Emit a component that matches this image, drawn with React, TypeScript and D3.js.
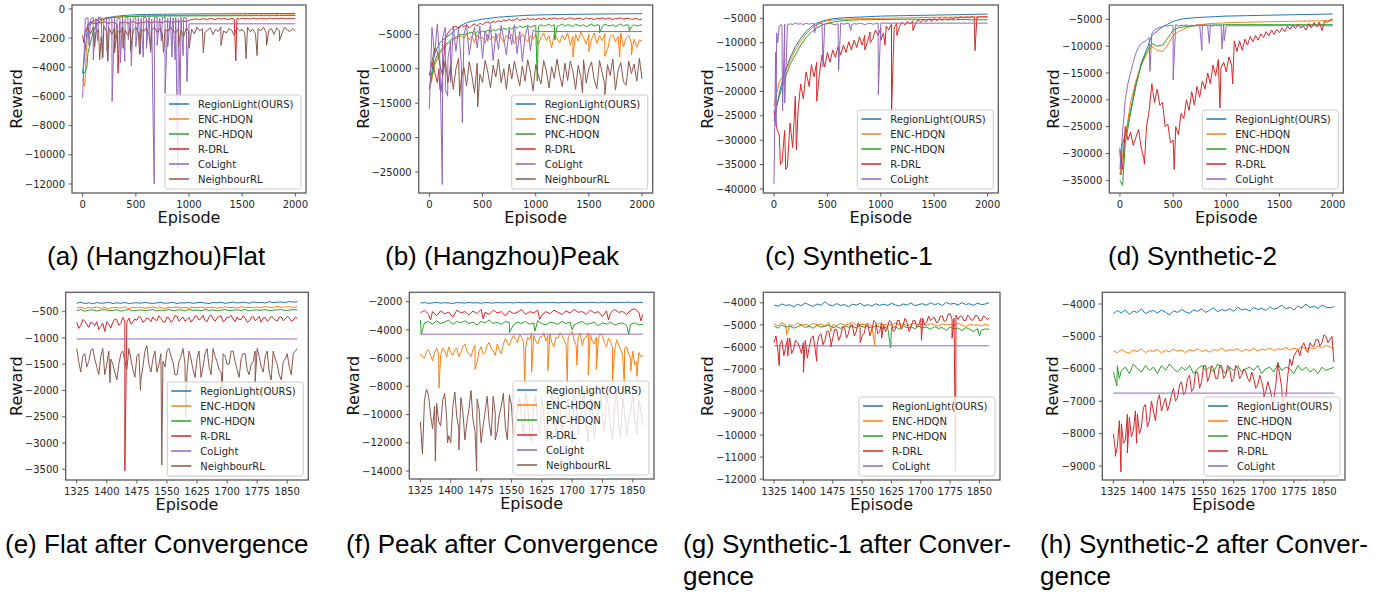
import React from 'react';
import * as d3 from 'd3';

type Pt = [number, number];

const COLORS = ['#1f77b4', '#ff7f0e', '#2ca02c', '#d62728', '#9467bd', '#8c564b'];
const NAMES = ['RegionLight(OURS)', 'ENC-HDQN', 'PNC-HDQN', 'R-DRL', 'CoLight', 'NeighbourRL'];

const TOP_X_TICKS = [0, 500, 1000, 1500, 2000];
const BOT_X_TICKS = [1325, 1400, 1475, 1550, 1625, 1700, 1775, 1850];

const seq = (start: number, step: number, vals: number[]): Pt[] => vals.map((v, i) => [start + i * step, v] as Pt);
const merge = (...parts: Pt[][]): Pt[] => parts.flat().slice().sort((a, b) => a[0] - b[0]);

// ---------------- (a) Hangzhou Flat ----------------
const A_BLUE = [-4400,-1000,-850,-750,-650,-580,-520,-480,-440,-420,-400,-390,-380,-375,-370,-365,-360,-355,-350,-350,-345,-345,-340,-340,-335,-335,-330,-330,-330,-325,-325,-320,-320,-320,-315,-315,-315,-310,-310,-310,-305];
const A_ORANGE = [-4800,-1200,-800,-700,-650,-600,-560,-530,-510,-500,-490,-480,-470,-465,-460,-455,-450,-450,-445,-445,-440,-440,-440,-435,-435,-430,-430,-430,-425,-425,-425,-420,-420,-420,-420,-415,-415,-415,-410,-410,-410];
const A_ORANGE_SPIKES: Pt[] = [[20,-5300],[35,-3000]];
const A_GREEN = [-4500,-3000,-1500,-900,-700,-620,-580,-550,-530,-520,-510,-500,-500,-495,-490,-490,-485,-485,-480,-480,-480,-475,-475,-475,-470,-470,-470,-470,-465,-465,-465,-465,-460,-460,-460,-460,-460,-455,-455,-455,-455];
const A_GREEN_SPIKES: Pt[] = [[25,-4300],[40,-4000],[75,-2300]];
const A_RED = [
  -1800,-1600,-1150,-1000,-950,-1050,-900,-1000,-850,-950,-1000,-880,-950,-1050,-900,-980,-870,-1000,-920,-860,
  -950,-1020,-880,-940,-860,-900,-980,-850,-920,-880,-960,-840,-900,-870,-950,-830,-900,-860,-820,-880,
  -780,-720,-700,-680,-740,-660,-700,-720,-650,-690,-720,-640,-700,-660,-680,-720,-640,-690,-660,-700,
  -640,-680,-650,-700,-630,-670,-690,-640,-660,-700,-630,-650,-680,-640,-660,-620,-680,-650,-640,-660,-630];
const A_RED_SPIKES: Pt[] = [[10,-2300],[333,-4400],[1440,-3550]];
const A_PURPLE = [-6100,-650,-600,-700,-580,-650,-560,-620,-700,-580,-600,-650,-560,-700,-600,-580,-640,-560,-620,-700,-580,-600,-650,-560,-620,-580,-700,-600,-560,-640,-600,-580,-650,-560,-620,-600,-700,-580,-600,-640,-1020];
const A_PURPLE_SPIKES: Pt[] = [[60,-2500],[100,-3500],[140,-2200],[185,-3400],[230,-2900],[277,-6350],[300,-2500],[355,-3700],[396,-3600],[430,-2100],[458,-3900],[500,-2600],[543,-3100],[570,-3300],[600,-2700],[640,-3000],[660,-6500],[673,-12000],[700,-2500],[740,-2200],[775,-5800],[800,-2600],[840,-3300],[870,-3500],[894,-10900],[917,-6000],[945,-3200],[980,-5000],[2000,-1020]];
const A_BROWN = [
  -1500,-1300,-1700,-1250,-1600,-1400,-1900,-1200,-1550,-1350,-1750,-1300,-1500,-1650,-1250,-1450,-1800,-1350,-1500,-1250,
  -1650,-1400,-1550,-1300,-1800,-1450,-1250,-1600,-1350,-1700,-1400,-1550,-1250,-1500,-1650,-1350,-1450,-1900,-1300,-1550,
  -1400,-1700,-1250,-1500,-1350,-1600,-1450,-1300,-1750,-1400,-1550,-1250,-1500,-1650,-1350,-1450,-1800,-1300,-1500,-1400,
  -1650,-1250,-1550,-1400,-1700,-1350,-1500,-1250,-1600,-1450,-1350,-1750,-1300,-1500,-1650,-1250,-1450,-1550,-1350,-1500];
const A_BROWN_SPIKES: Pt[] = [[113,-2600],[160,-3500],[190,-3300],[237,-3600],[300,-3000],[380,-2700],[450,-2900],[535,-3100],[640,-2800],[760,-3000],[900,-2600],[1000,-2700],[1135,-3000],[1300,-2500],[1537,-3400],[1640,-3200],[1730,-2500],[1850,-2200]];

// ---------------- (b) Hangzhou Peak ----------------
const B_BLUE = [-13000,-7800,-6200,-5500,-5000,-4300,-3700,-3300,-3100,-2950,-2800,-2700,-2600,-2500,-2450,-2400,-2350,-2300,-2250,-2220,-2200,-2180,-2160,-2150,-2140,-2120,-2110,-2100,-2090,-2080,-2070,-2060,-2050,-2050,-2040,-2030,-2030,-2020,-2010,-2010,-2000];
const B_ORANGE = [
  -13000,-11500,-9500,-8500,-7800,-7200,-6800,-6400,-6000,-5800,-5600,-5400,-5200,-5600,-5000,-5800,-5200,-6200,-5000,-5600,
  -5400,-6300,-5000,-5800,-5300,-6000,-4900,-5500,-6200,-5100,-5700,-5000,-6400,-5300,-5800,-4900,-5600,-6100,-5200,-5700,
  -5000,-6500,-5400,-4800,-5900,-5200,-7000,-4900,-5600,-6200,-5100,-5800,-4800,-6600,-5300,-5000,-6000,-4700,-5500,-6400,
  -5000,-5700,-4800,-6300,-5200,-5900,-4900,-7200,-5400,-5000,-6100,-5300,-4800,-6800,-5500,-5100,-6400,-5700,-6900,-5800,-6000];
const B_ORANGE_SPIKES: Pt[] = [[1350,-8300],[1500,-7500],[1650,-8200],[1790,-8300],[1900,-8000]];
const B_GREEN = [
  -13000,-11000,-9000,-8000,-7500,-7000,-6500,-6200,-5800,-5600,-5400,-5200,-5000,-5100,-4900,-4800,-4700,-5000,-4600,-4800,
  -4500,-4700,-4400,-4600,-4300,-4500,-4200,-4400,-4100,-4300,-4000,-4200,-3900,-4100,-3800,-4000,-3900,-3700,-4000,-3800,
  -3700,-3900,-3600,-3800,-3700,-3500,-3800,-3600,-3900,-3700,-3500,-3800,-3600,-3700,-3900,-3500,-3700,-3800,-3600,-3900,
  -3700,-3500,-3800,-3600,-3700,-3900,-3500,-3700,-3800,-3600,-3900,-3700,-3500,-3800,-3600,-3700,-3900,-3600,-3800,-3700,-3600];
const B_GREEN_SPIKES: Pt[] = [[1015,-11800],[1180,-5800],[1600,-4800],[1880,-4500]];
const B_RED = [
  -11000,-9000,-10500,-12000,-13000,-11000,-5500,-4800,-4300,-4000,-3800,-4200,-3700,-3900,-3600,-4100,-3700,-3500,-3800,-3400,
  -3600,-3300,-3200,-3400,-3100,-3300,-3000,-3200,-2900,-3100,-2800,-3000,-2900,-2700,-3000,-2800,-2900,-2700,-2850,-2750,
  -2900,-2700,-2800,-2650,-2850,-2700,-2750,-2600,-2800,-2700,-2650,-2850,-2700,-2600,-2750,-2800,-2650,-2700,-2850,-2600,
  -2750,-2700,-2850,-2650,-2750,-2600,-2800,-2700,-2650,-2850,-2700,-2750,-2600,-2800,-2700,-2650,-2850,-2750,-2700,-2900,-2800];
const B_RED_SPIKES: Pt[] = [[90,-10000],[110,-13400]];
const B_PURPLE = [
  -15800,-4000,-8000,-3500,-9000,-5500,-4000,-8500,-6000,-3800,-7500,-4200,-9000,-5000,-3600,-8000,-5500,-4000,-7000,-3800,
  -8500,-4500,-6000,-3600,-8800,-4800,-7200,-3700,-5800,-8000,-4200,-6500,-3600,-7800,-4600,-9000,-5200,-3800,-7400,-4400,-4600];
const B_PURPLE_SPIKES: Pt[] = [[122,-26800],[150,-13000],[172,-14000],[200,-12000],[310,-17800],[2000,-4600]];
const B_BROWN = [
  -9000,-7000,-7500,-9500,-11000,-8800,-12000,-9500,-13000,-10000,-8500,-11500,-9800,-12500,-9000,-11000,-13500,-9200,-10800,-12000,
  -8800,-10500,-12800,-9500,-11200,-8600,-12000,-10000,-13000,-9300,-11500,-8900,-10800,-12500,-9600,-11800,-8700,-10500,-13200,-9400,
  -11000,-12200,-8800,-10300,-12800,-9700,-11400,-8600,-10900,-12600,-9200,-11700,-8900,-10400,-13000,-9500,-11300,-8700,-12100,-10000,
  -9000,-11600,-12900,-8800,-10600,-12300,-9400,-11000,-8600,-13100,-10200,-9100,-11900,-12400,-8900,-10700,-9300,-11800,-8500,-11500];
const B_BROWN_SPIKES: Pt[] = [[285,-14000],[455,-15500],[1440,-13500],[1650,-13800]];

// ---------------- (c) Synthetic-1 ----------------
const C_BLUE = [-26000,-20400,-16000,-13200,-10800,-9100,-7700,-6700,-6000,-5600,-5300,-5100,-5000,-4900,-4850,-4800,-4750,-4700,-4650,-4600,-4550,-4520,-4500,-4480,-4460,-4440,-4420,-4400,-4380,-4360,-4340,-4320,-4300,-4280,-4260,-4240,-4220,-4200,-4180,-4160,-4150];
const C_ORANGE = [-23000,-18000,-16300,-13800,-11500,-9700,-8200,-7100,-6300,-5800,-5500,-5350,-5250,-5200,-5150,-5100,-5080,-5060,-5040,-5020,-5000,-4980,-4960,-4940,-4920,-4900,-4880,-4860,-4840,-4820,-4800,-4790,-4780,-4770,-4760,-4750,-4740,-4730,-4720,-4710,-4700];
const C_GREEN = [-25000,-21000,-17500,-14500,-12500,-10500,-9000,-7800,-7000,-6400,-6000,-5800,-5600,-5500,-5400,-5350,-5300,-5300,-5300,-5250,-5250,-5250,-5250,-5200,-5200,-5200,-5200,-5200,-5250,-5250,-5250,-5300,-5300,-5300,-5300,-5250,-5250,-5300,-5300,-5300,-5300];
const C_RED = [
  -24000,-27500,-29000,-34500,-28000,-35500,-26500,-31500,-21000,-24000,
  -18500,-21500,-16000,-18500,-14500,-17000,-14000,-16500,-12500,-15000,
  -12000,-14000,-11500,-13000,-10800,-12500,-10500,-12000,-9800,-11500,
  -9500,-11000,-8800,-10500,-8500,-9800,-7800,-9200,-7400,-8500,
  -7000,-8000,-6600,-7400,-6200,-7000,-6000,-6700,-5800,-6400,
  -5600,-6200,-5500,-6000,-5300,-5800,-5200,-5700,-5100,-5600,
  -5000,-5500,-4900,-5400,-4800,-5300,-4900,-5100,-4800,-5000,
  -4700,-4900,-4700,-4850,-4650,-4800,-4700,-4750,-4650,-4700,-4700];
const C_RED_SPIKES: Pt[] = [[60,-35000],[110,-36000],[210,-32000],[330,-19000],[400,-22000],[850,-11500],[900,-10000],[1000,-9500],[1040,-10500],[1101,-23800],[1150,-8500],[1300,-7500],[1882,-11600]];
const C_PURPLE = [-39000,-8000,-6500,-6300,-6200,-6400,-6100,-6300,-6000,-6200,-6100,-6300,-6000,-6200,-6100,-6000,-6300,-6100,-6000,-6200,-6100,-6000,-6200,-6300,-6100,-6000,-6200,-6100,-6000,-6300,-6100,-6200,-6000,-6100,-6300,-6100,-6000,-6200,-6100,-6000,-6000];
const C_PURPLE_SPIKES: Pt[] = [[8,-25000],[15,-12000],[20,-27000],[35,-10000],[80,-24000],[100,-22400],[115,-14000],[380,-8000],[459,-14900],[605,-15700],[720,-7500],[977,-20600],[2000,-6000]];

// ---------------- (d) Synthetic-2 ----------------
const D_BLUE = [-29000,-26500,-22000,-17000,-13200,-10700,-8000,-7200,-6400,-5900,-5400,-5100,-4900,-4800,-4700,-4650,-4600,-4550,-4500,-4450,-4400,-4380,-4360,-4340,-4320,-4300,-4280,-4260,-4240,-4220,-4200,-4180,-4160,-4140,-4120,-4100,-4080,-4060,-4040,-4020,-4000];
const D_BLUE_SPIKES: Pt[] = [[10,-34000],[20,-28500]];
const D_ORANGE = [-34000,-27000,-20500,-16500,-13500,-11500,-10000,-10800,-11000,-9800,-8000,-7300,-6800,-6400,-6200,-6000,-5900,-5800,-5750,-5700,-5650,-5600,-5580,-5560,-5540,-5520,-5500,-5480,-5460,-5440,-5420,-5400,-5380,-5360,-5340,-5320,-5300,-5300,-5280,-5260,-5250];
const D_GREEN = [-35000,-28000,-22500,-17500,-13500,-11000,-9500,-10000,-9800,-8500,-7000,-6600,-6400,-6300,-6200,-6150,-6100,-6100,-6050,-6050,-6000,-6000,-6000,-6000,-6000,-6000,-6000,-6000,-6000,-6000,-6000,-6000,-6000,-6000,-6000,-6000,-6000,-6000,-6000,-6000,-6000];
const D_GREEN_SPIKES: Pt[] = [[25,-36000]];
const D_RED = [
  -29500,-33000,-25000,-27500,-26000,-28500,-27000,-25500,-29000,-31000,
  -25000,-22000,-17000,-20500,-18000,-21000,-20500,-25000,-24500,-28000,
  -27500,-25000,-26500,-22500,-23500,-20000,-22000,-18500,-21000,-17500,
  -19500,-16500,-18000,-15000,-17000,-13500,-15500,-12500,-14000,-13000,
  -14800,-12000,-13500,-9000,-11000,-9000,-10800,-8700,-9800,-8200,
  -9200,-8000,-8900,-7700,-8400,-7300,-8100,-7000,-7800,-6900,
  -7500,-6600,-7300,-6300,-6900,-6100,-6700,-5900,-6600,-6300,
  -7000,-5800,-6600,-5600,-6400,-5500,-7100,-5300,-5600,-5100,-5000];
const D_RED_SPIKES: Pt[] = [[230,-32000],[510,-33000],[940,-21500],[1060,-17000]];
const D_PURPLE = [-33000,-26000,-20000,-17000,-15000,-13000,-11300,-10200,-9500,-9200,-8900,-8400,-7600,-7000,-6700,-6500,-6400,-6200,-6300,-6100,-6200,-6000,-6300,-6100,-6200,-6000,-6300,-6100,-6200,-6000,-6100,-6300,-6000,-6200,-6100,-6300,-6000,-6200,-6100,-6000,-6200];
const D_PURPLE_SPIKES: Pt[] = [[282,-14700],[500,-16300],[770,-10800],[840,-9500],[960,-10500],[980,-9000],[2000,-6200]];

// ---------------- (e) Flat after convergence ----------------
const E_BLUE = [-340,-320,-345,-330,-350,-325,-340,-335,-320,-345,-330,-340,-325,-345,-335,-330,-340,-320,-335,-345,-330,-325,-340,-335,-320,-345,-330,-335,-325,-340,-330,-320,-335,-345,-325,-330,-320,-340,-330,-315,-335,-325,-320,-340,-315,-330,-320,-335,-310,-325,-320,-315,-330,-305,-320,-310];
const E_ORANGE = [-430,-415,-440,-420,-425,-410,-435,-420,-445,-415,-425,-430,-410,-440,-420,-425,-415,-435,-420,-410,-430,-420,-440,-415,-425,-410,-430,-420,-435,-415,-425,-410,-430,-420,-415,-435,-420,-410,-425,-415,-430,-405,-420,-415,-425,-410,-420,-405,-415,-420,-400,-415,-410,-405,-420,-410];
const E_GREEN = [-480,-460,-490,-470,-465,-485,-470,-460,-480,-475,-465,-490,-470,-460,-485,-475,-465,-480,-470,-460,-485,-470,-475,-460,-480,-470,-465,-485,-460,-475,-470,-480,-460,-475,-465,-485,-470,-460,-480,-470,-465,-475,-460,-485,-470,-465,-475,-460,-480,-470,-465,-460,-475,-470,-460,-465];
const E_RED = [
  -700,-820,-760,-650,-680,-740,-800,-700,-720,-770,
  -690,-840,-780,-720,-880,-690,-740,-810,-700,-640,
  -650,-760,-720,-610,-680,-700,-620,-730,-700,-640,
  -660,-590,-610,-700,-680,-620,-640,-690,-600,-650,
  -670,-580,-630,-690,-700,-600,-620,-700,-660,-570,
  -590,-680,-640,-600,-680,-650,-610,-700,-650,-580,
  -590,-660,-630,-570,-670,-690,-600,-560,-640,-680,
  -620,-590,-580,-690,-660,-600,-610,-570,-640,-690,
  -600,-650,-650,-580,-620,-700,-680,-610,-590,-670,
  -640,-590,-700,-620,-610,-680,-650,-590,-620,-660,
  -680,-600,-600,-670,-640,-590,-620,-680,-660,-600,-630];
const E_RED_SPIKES: Pt[] = [[1445,-3530]];
const E_PURPLE: Pt[] = [[1325,-1020],[1875,-1020]];
const E_BROWN = [
  -1200,-1450,-1650,-1350,-1300,-1550,-1450,-1250,-1200,-1400,
  -1550,-1700,-1350,-1200,-1700,-1500,-1250,-1400,-1500,-1650,
  -1800,-1500,-1300,-1250,-1450,-1600,-1200,-1400,-1600,-1750,
  -1350,-1300,-1800,-1550,-1250,-1150,-1500,-1650,-1400,-1250,
  -1650,-1500,-1300,-1450,-1550,-1250,-1200,-1350,-1450,-1700,
  -1700,-1450,-1350,-1200,-1500,-1650,-1250,-1400,-1600,-1750,
  -1400,-1250,-1750,-1550,-1300,-1200,-1550,-1700,-1200,-1350,
  -1450,-1600,-1650,-1300,-1350,-1500,-1500,-1250,-1250,-1450,
  -1600,-1750,-1400,-1300,-1300,-1600,-1700,-1500,-1450,-1250,
  -1200,-1350,-1550,-1650,-1350,-1250,-1650,-1800,-1250,-1400,
  -1500,-1700,-1800,-1450,-1400,-1300,-1550,-1700,-1300,-1250,-1200];
const E_BROWN_SPIKES: Pt[] = [[1408,-1850],[1484,-2000],[1537,-3420],[1597,-2500],[1688,-1950],[1770,-1850]];

// ---------------- (f) Peak after convergence ----------------
const F_BLUE = [-2100,-2060,-2120,-2080,-2050,-2110,-2070,-2090,-2130,-2060,-2080,-2100,-2050,-2090,-2070,-2110,-2060,-2080,-2100,-2050,-2090,-2070,-2060,-2100,-2040,-2080,-2070,-2050,-2090,-2060,-2080,-2040,-2070,-2060,-2090,-2050,-2070,-2040,-2080,-2060,-2050,-2070,-2040,-2060,-2080,-2030,-2060,-2050,-2070,-2040,-2060,-2030,-2050,-2070,-2040,-2060];
const F_ORANGE = [
  -5700,-5900,-6000,-5500,-5400,-5800,-6200,-5600,-5300,-5700,
  -5800,-5300,-5500,-5900,-5200,-5600,-5800,-5400,-5300,-5900,
  -5600,-5200,-5000,-5500,-5700,-5900,-5400,-5100,-6300,-5500,
  -5200,-5700,-5600,-5100,-4900,-5300,-5500,-5800,-5000,-5400,
  -5700,-5000,-4600,-4900,-5100,-4700,-4400,-4600,-4900,-4300,
  -4500,-4900,-5300,-4500,-4700,-4200,-4400,-4800,-5000,-4500,
  -4500,-4200,-4800,-4400,-4300,-4900,-5200,-4500,-4600,-4200,
  -4400,-4700,-5000,-4600,-4300,-4100,-4700,-5100,-4400,-4200,
  -5100,-4600,-4500,-4200,-4300,-4800,-5000,-4500,-4600,-4300,
  -4400,-4900,-5200,-4600,-4800,-5300,-5500,-4700,-5000,-5400,
  -5800,-5300,-5200,-5700,-6000,-5500,-6500,-6200,-5600,-5900,-5800];
const F_ORANGE_SPIKES: Pt[] = [[1371,-8100],[1460,-6800],[1583,-7800],[1600,-7000],[1640,-6900],[1688,-7700],[1712,-6500],[1740,-7200],[1760,-6800],[1800,-7600],[1829,-7900],[1845,-6900],[1860,-7300]];
const F_GREEN = [-3300,-3500,-3400,-3600,-3350,-3550,-3450,-3300,-3600,-3400,-3500,-3350,-3550,-3450,-3650,-3400,-3500,-3300,-3550,-3450,-3600,-3400,-3500,-3650,-3450,-3550,-3400,-3600,-3500,-3350,-3550,-3650,-3450,-3500,-3600,-3400,-3550,-3450,-3650,-3500,-3400,-3600,-3550,-3450,-3700,-3500,-3600,-3450,-3650,-3550,-3500,-3700,-3600,-3500,-3650,-3600];
const F_GREEN_SPIKES: Pt[] = [[1327,-4300],[1545,-4200],[1608,-4100],[1700,-4000],[1840,-4300]];
const F_RED = [-2800,-2600,-2900,-2700,-3000,-2650,-2850,-2750,-3100,-2600,-2800,-2700,-2950,-2650,-2850,-2550,-2750,-2900,-2600,-2800,-2700,-3000,-2650,-2850,-2750,-2550,-2900,-2700,-2800,-2600,-2950,-2700,-2850,-2600,-2750,-2900,-2650,-2800,-2550,-2750,-2700,-2900,-2600,-2800,-2700,-3050,-2650,-2800,-2550,-2750,-2700,-2900,-2600,-2500,-2750,-2900];
const F_RED_SPIKES: Pt[] = [[1350,-3300],[1480,-3200],[1620,-3250],[1790,-3300],[1870,-3350]];
const F_PURPLE: Pt[] = [[1325,-4300],[1875,-4300]];
const F_BROWN = [
  -10500,-12800,-9000,-8200,-8600,-10000,-11000,-9400,-9200,-10500,
  -10800,-9000,-8500,-10300,-11500,-12000,-9500,-8400,-10200,-11000,
  -8800,-9800,-11800,-10500,-9600,-8300,-10400,-11200,-8900,-9600,
  -12000,-10800,-9800,-8700,-10600,-11500,-8700,-9900,-11200,-10000,
  -9400,-8500,-10900,-11800,-8600,-9300,-11600,-10700,-9700,-8800,
  -10100,-11500,-8500,-9200,-11300,-12000,-9300,-8600,-10700,-11300,
  -8800,-10000,-11900,-10200,-9500,-8400,-10300,-11600,-8700,-9500,
  -11100,-10400,-9900,-8900,-10500,-12000,-8600,-9100,-11400,-10600,
  -9200,-8300,-10800,-11900,-8900,-9600,-11700,-10400,-9600,-8700,
  -10200,-11200,-8600,-9400,-11000,-11800,-9400,-8500,-10600,-11700,
  -8800,-9900,-11500,-10300,-9700,-8600,-10300,-11400,-9000,-9700,-10800];
const F_BROWN_SPIKES: Pt[] = [[1362,-13300],[1392,-12000],[1420,-12500],[1464,-14000],[1510,-11800]];

// ---------------- (g) Synthetic-1 after convergence ----------------
const G_BLUE = [-4100,-4150,-4050,-4120,-4080,-4180,-4060,-4130,-4000,-4100,-4160,-4050,-4110,-3950,-4090,-4140,-4030,-4120,-4070,-4180,-4060,-4100,-4020,-4130,-4080,-4150,-4040,-4110,-4060,-4120,-4020,-4090,-4140,-4050,-4100,-4000,-4130,-4070,-4040,-4110,-4000,-4080,-4030,-4120,-3980,-4060,-4020,-4100,-3990,-4070,-4040,-4110,-4010,-4080,-4050,-3990];
const G_ORANGE = [-4950,-5050,-4900,-5000,-4980,-5060,-4920,-5010,-4970,-5040,-4930,-5000,-4960,-5050,-4900,-4990,-5030,-4940,-5010,-4970,-4880,-5020,-4960,-4990,-4930,-5050,-4980,-4940,-5000,-4960,-5030,-4910,-4990,-4950,-5040,-4970,-4920,-5000,-4960,-5030,-4940,-4990,-5060,-4950,-5010,-4970,-5040,-4930,-5000,-5080,-4960,-5020,-4990,-5050,-4970,-5030];
const G_ORANGE_SPIKES: Pt[] = [[1357,-5450],[1470,-5300],[1582,-5900]];
const G_GREEN = [-5050,-5150,-5000,-5100,-5050,-5150,-5080,-5000,-5120,-5060,-5150,-5020,-5100,-5060,-5000,-5120,-5080,-5160,-5040,-5100,-5060,-5140,-5020,-5110,-5070,-5150,-5030,-5100,-5160,-5060,-5120,-5080,-5200,-5050,-5130,-5090,-5170,-5060,-5140,-5100,-5200,-5080,-5160,-5120,-5240,-5100,-5180,-5140,-5260,-5120,-5200,-5300,-5160,-5240,-5180,-5200];
const G_GREEN_SPIKES: Pt[] = [[1623,-6050],[1850,-5500]];
const G_RED = [
  -5800,-5500,-6200,-5900,-5700,-6400,-6000,-5600,-5600,-6300,
  -6100,-5700,-5800,-6000,-6300,-5800,-5700,-6500,-6000,-5600,
  -5500,-6100,-5900,-5500,-5400,-5900,-5700,-5300,-5300,-5800,
  -5600,-5200,-5200,-5700,-5500,-5100,-5100,-5600,-5400,-5000,
  -5000,-5500,-5300,-4900,-5100,-5500,-5400,-5000,-5000,-5500,
  -5200,-4800,-4900,-5400,-5300,-4900,-5000,-5300,-5100,-4800,
  -4900,-5300,-5200,-4800,-4800,-5200,-5000,-4700,-4900,-5300,
  -5100,-4800,-4800,-5100,-5000,-4700,-4700,-5000,-4900,-4600,
  -4800,-4700,-4650,-4900,-4850,-4600,-4600,-4850,-4800,-4500,
  -4500,-4750,-4700,-4550,-4750,-4600,-4600,-4800,-4800,-4550,
  -4650,-4800,-4750,-4550,-4600,-4800,-4800,-4600,-4650,-4750,-4700];
const G_RED_SPIKES: Pt[] = [[1338,-6850],[1360,-6400],[1400,-7150],[1434,-6650],[1470,-6000],[1545,-5800],[1600,-5600],[1702,-5700],[1780,-5600],[1789,-11650]];
const G_PURPLE: Pt[] = [[1325,-5950],[1875,-5950]];

// ---------------- (h) Synthetic-2 after convergence ----------------
const H_BLUE = [-4300,-4200,-4280,-4180,-4320,-4220,-4260,-4150,-4300,-4230,-4200,-4280,-4190,-4250,-4340,-4210,-4260,-4170,-4240,-4290,-4180,-4230,-4150,-4260,-4200,-4120,-4240,-4170,-4210,-4140,-4230,-4100,-4180,-4150,-4220,-4110,-4170,-4130,-4200,-4090,-4160,-4120,-4040,-4150,-4100,-4180,-4060,-4130,-4000,-4110,-4070,-4140,-4030,-4100,-4120,-4080];
const H_ORANGE = [-5450,-5500,-5400,-5480,-5520,-5420,-5470,-5380,-5500,-5440,-5460,-5400,-5510,-5430,-5480,-5390,-5460,-5420,-5500,-5410,-5450,-5380,-5470,-5420,-5490,-5400,-5440,-5360,-5460,-5410,-5430,-5380,-5470,-5400,-5440,-5370,-5450,-5390,-5420,-5350,-5440,-5380,-5410,-5340,-5420,-5370,-5400,-5320,-5390,-5350,-5380,-5300,-5360,-5280,-5320,-5400];
const H_GREEN = [-6100,-5900,-6050,-5950,-6150,-5850,-6000,-6100,-5900,-6050,-5950,-6150,-5900,-6050,-5850,-6000,-6100,-5950,-6050,-5900,-6150,-6000,-5900,-6050,-5950,-6100,-5850,-6000,-6150,-5950,-6050,-5900,-6100,-6000,-5950,-6050,-5900,-6150,-6000,-5950,-6100,-5850,-6050,-5950,-6000,-6150,-5900,-6050,-5950,-6100,-6000,-6150,-5950,-6050,-6000,-5950];
const H_GREEN_SPIKES: Pt[] = [[1334,-6530],[1340,-6300]];
const H_RED = [
  -8000,-8500,-8400,-7600,-7700,-8300,-8200,-7400,-7500,-8100,
  -7900,-7300,-7400,-8000,-7800,-7200,-7100,-7800,-7600,-7000,
  -7300,-7600,-7000,-6800,-7300,-7100,-6900,-7300,-7100,-6800,
  -6600,-7000,-6900,-6500,-6400,-6800,-6700,-6300,-6200,-6700,
  -6600,-6100,-6100,-6600,-6400,-5900,-5900,-6400,-6200,-5900,
  -6000,-6300,-6300,-5900,-5900,-6300,-6200,-5900,-6000,-6400,
  -6300,-5900,-6000,-6300,-6200,-6000,-6100,-6300,-6400,-6100,
  -6300,-6600,-6500,-6200,-6400,-6700,-6700,-6400,-6600,-6900,
  -6900,-6500,-5800,-6200,-6600,-6900,-6900,-6200,-5700,-5900,
  -5600,-5500,-5400,-5600,-5300,-5200,-5400,-5500,-5200,-5300,
  -5300,-5100,-5100,-5300,-5200,-4950,-5000,-5200,-5100,-5000,-5800];
const H_RED_SPIKES: Pt[] = [[1330,-8700],[1344,-9180],[1360,-8600],[1383,-8300],[1700,-6900],[1722,-7300],[1747,-7250]];
const H_PURPLE: Pt[] = [[1325,-6750],[1875,-6750]];

// ---------------- panel layout ----------------
type PanelSpec = {
  box: [number, number, number, number];
  xDomain: [number, number];
  yDomain: [number, number];
  xTicks: number[];
  yTicks: number[];
  series: Pt[][];
};

const TOP_XD: [number, number] = [-100, 2100];
const BOT_XD: [number, number] = [1297.5, 1902.5];

const PANELS: PanelSpec[] = [
  {
    box: [72, 5, 306, 193], xDomain: TOP_XD, yDomain: [-12620, 270], xTicks: TOP_X_TICKS,
    yTicks: [0, -2000, -4000, -6000, -8000, -10000, -12000],
    series: [
      seq(0, 50, A_BLUE), merge(seq(0, 50, A_ORANGE), A_ORANGE_SPIKES), merge(seq(0, 50, A_GREEN), A_GREEN_SPIKES),
      merge(seq(0, 25, A_RED), A_RED_SPIKES), merge(seq(0, 25, A_PURPLE), A_PURPLE_SPIKES), merge(seq(25, 25, A_BROWN), A_BROWN_SPIKES),
    ],
  },
  {
    box: [418.7, 5, 652.7, 193], xDomain: TOP_XD, yDomain: [-28050, -740], xTicks: TOP_X_TICKS,
    yTicks: [-5000, -10000, -15000, -20000, -25000],
    series: [
      seq(0, 50, B_BLUE), merge(seq(0, 25, B_ORANGE), B_ORANGE_SPIKES), merge(seq(0, 25, B_GREEN), B_GREEN_SPIKES),
      merge(seq(0, 25, B_RED), B_RED_SPIKES), merge(seq(0, 25, B_PURPLE), B_PURPLE_SPIKES), merge(seq(25, 25, B_BROWN), B_BROWN_SPIKES),
    ],
  },
  {
    box: [763.3, 5, 998.3, 193], xDomain: TOP_XD, yDomain: [-40830, -2270], xTicks: TOP_X_TICKS,
    yTicks: [-5000, -10000, -15000, -20000, -25000, -30000, -35000, -40000],
    series: [
      seq(0, 50, C_BLUE), seq(0, 50, C_ORANGE), seq(0, 50, C_GREEN),
      merge(seq(0, 25, C_RED), C_RED_SPIKES), merge(seq(0, 25, C_PURPLE), C_PURPLE_SPIKES),
    ],
  },
  {
    box: [1109.3, 5, 1343.3, 193], xDomain: TOP_XD, yDomain: [-37364, -2336], xTicks: TOP_X_TICKS,
    yTicks: [-5000, -10000, -15000, -20000, -25000, -30000, -35000],
    series: [
      merge(seq(0, 50, D_BLUE), D_BLUE_SPIKES), seq(0, 50, D_ORANGE), merge(seq(0, 50, D_GREEN), D_GREEN_SPIKES),
      merge(seq(0, 25, D_RED), D_RED_SPIKES), merge(seq(0, 25, D_PURPLE), D_PURPLE_SPIKES),
    ],
  },
  {
    box: [65.7, 292.3, 308.3, 480], xDomain: BOT_XD, yDomain: [-3704, -131], xTicks: BOT_X_TICKS,
    yTicks: [-500, -1000, -1500, -2000, -2500, -3000, -3500],
    series: [
      seq(1325, 10, E_BLUE), seq(1325, 10, E_ORANGE), seq(1325, 10, E_GREEN),
      merge(seq(1325, 5, E_RED), E_RED_SPIKES), E_PURPLE, merge(seq(1325, 5, E_BROWN), E_BROWN_SPIKES),
    ],
  },
  {
    box: [409.3, 292.3, 654, 479], xDomain: BOT_XD, yDomain: [-14567, -1334], xTicks: BOT_X_TICKS,
    yTicks: [-2000, -4000, -6000, -8000, -10000, -12000, -14000],
    series: [
      seq(1325, 10, F_BLUE), merge(seq(1325, 5, F_ORANGE), F_ORANGE_SPIKES), merge(seq(1325, 10, F_GREEN), F_GREEN_SPIKES),
      merge(seq(1325, 10, F_RED), F_RED_SPIKES), F_PURPLE, merge(seq(1325, 5, F_BROWN), F_BROWN_SPIKES),
    ],
  },
  {
    box: [763.3, 292.3, 1000, 480], xDomain: BOT_XD, yDomain: [-12040, -3520], xTicks: BOT_X_TICKS,
    yTicks: [-4000, -5000, -6000, -7000, -8000, -9000, -10000, -11000, -12000],
    series: [
      seq(1325, 10, G_BLUE), merge(seq(1325, 10, G_ORANGE), G_ORANGE_SPIKES), merge(seq(1325, 10, G_GREEN), G_GREEN_SPIKES),
      merge(seq(1325, 5, G_RED), G_RED_SPIKES), G_PURPLE,
    ],
  },
  {
    box: [1102.3, 292.3, 1345, 480], xDomain: BOT_XD, yDomain: [-9432, -3639], xTicks: BOT_X_TICKS,
    yTicks: [-4000, -5000, -6000, -7000, -8000, -9000],
    series: [
      seq(1325, 10, H_BLUE), seq(1325, 10, H_ORANGE), merge(seq(1325, 10, H_GREEN), H_GREEN_SPIKES),
      merge(seq(1325, 5, H_RED), H_RED_SPIKES), H_PURPLE,
    ],
  },
];

const CAPTIONS: [string, number, number][] = [
  ['(a) (Hangzhou)Flat', 47, 265],
  ['(b) (Hangzhou)Peak', 385, 265],
  ['(c) Synthetic-1', 765, 265],
  ['(d) Synthetic-2', 1108, 265],
  ['(e) Flat after Convergence', 5, 553],
  ['(f) Peak after Convergence', 346, 553],
  ['(g) Synthetic-1 after Conver-', 683, 553],
  ['gence', 683, 585],
  ['(h) Synthetic-2 after Conver-', 1040, 553],
  ['gence', 1040, 585],
];

const FONT = '"DejaVu Sans", sans-serif';
const SPINE = '#5a5a5a';

const fmt = (v: number) => (v < 0 ? '\u2212' + Math.abs(v) : String(v));
const textW = (s: string) => Array.from(s).reduce((a, c) => a + (c === '\u2212' ? 8.38 : 6.36), 0);

function Panel({ spec, id }: { spec: PanelSpec; id: number }) {
  const [x0, y0, x1, y1] = spec.box;
  const xs = d3.scaleLinear().domain(spec.xDomain).range([x0, x1]);
  const ys = d3.scaleLinear().domain(spec.yDomain).range([y1, y0]);
  const line = d3.line<Pt>().x((d) => xs(d[0])).y((d) => ys(d[1]));
  const n = spec.series.length;
  const lw = 136;
  const rowH = 15;
  const lh = 9 + (n - 1) * rowH + 10;
  const lx = x1 - 5 - lw;
  const ly = y1 - 4 - lh;
  const maxW = d3.max(spec.yTicks, (t) => textW(fmt(t))) || 0;
  const labX = x0 - 7 - maxW - 3;
  const clipId = `clip${id}`;
  return (
    <g>
      <defs>
        <clipPath id={clipId}>
          <rect x={x0} y={y0} width={x1 - x0} height={y1 - y0} />
        </clipPath>
      </defs>
      <g clipPath={`url(#${clipId})`}>
        {spec.series.map((s, i) => (
          <path key={i} d={line(s) || ''} fill="none" stroke={COLORS[i]} strokeWidth={1} strokeLinejoin="round" />
        ))}
      </g>
      <rect x={x0} y={y0} width={x1 - x0} height={y1 - y0} fill="none" stroke={SPINE} strokeWidth={1.3} />
      {spec.xTicks.map((t) => (
        <g key={'x' + t}>
          <line x1={xs(t)} x2={xs(t)} y1={y1} y2={y1 + 3.5} stroke={SPINE} strokeWidth={1} />
          <text x={xs(t)} y={y1 + 14.5} textAnchor="middle" fontSize={10} fontFamily={FONT} fill="#262626">
            {String(t)}
          </text>
        </g>
      ))}
      {spec.yTicks.map((t) => (
        <g key={'y' + t}>
          <line x1={x0 - 3.5} x2={x0} y1={ys(t)} y2={ys(t)} stroke={SPINE} strokeWidth={1} />
          <text x={x0 - 7} y={ys(t) + 3.6} textAnchor="end" fontSize={10} fontFamily={FONT} fill="#262626">
            {fmt(t)}
          </text>
        </g>
      ))}
      <text
        x={labX}
        y={(y0 + y1) / 2}
        transform={`rotate(-90 ${labX} ${(y0 + y1) / 2})`}
        textAnchor="middle"
        fontSize={16}
        fontFamily={FONT}
        fill="#111"
      >
        Reward
      </text>
      <text x={(x0 + x1) / 2} y={y1 + 30} textAnchor="middle" fontSize={16} fontFamily={FONT} fill="#111">
        Episode
      </text>
      <rect x={lx} y={ly} width={lw} height={lh} rx={2.5} fill="#ffffff" fillOpacity={0.8} stroke="#cccccc" strokeWidth={1} />
      {spec.series.map((_, i) => {
        const cy = ly + 9 + i * rowH;
        return (
          <g key={'l' + i}>
            <line x1={lx + 4} x2={lx + 24} y1={cy} y2={cy} stroke={COLORS[i]} strokeWidth={1.5} />
            <text x={lx + 33} y={cy + 3.6} fontSize={10} fontFamily={FONT} fill="#262626">
              {NAMES[i]}
            </text>
          </g>
        );
      })}
    </g>
  );
}

export default function App() {
  return (
    <svg
      width={1385}
      height={597}
      viewBox="0 0 1385 597"
      style={{ position: 'absolute', left: 0, top: 0, background: '#fff' }}
    >
      <rect x={0} y={0} width={1385} height={597} fill="#fff" />
      {PANELS.map((p, i) => (
        <Panel key={i} spec={p} id={i} />
      ))}
      {CAPTIONS.map(([t, x, y], i) => (
        <text key={'c' + i} x={x} y={y} fontSize={26} fontFamily='"Liberation Sans", Arial, sans-serif' fill="#000">
          {t}
        </text>
      ))}
    </svg>
  );
}
